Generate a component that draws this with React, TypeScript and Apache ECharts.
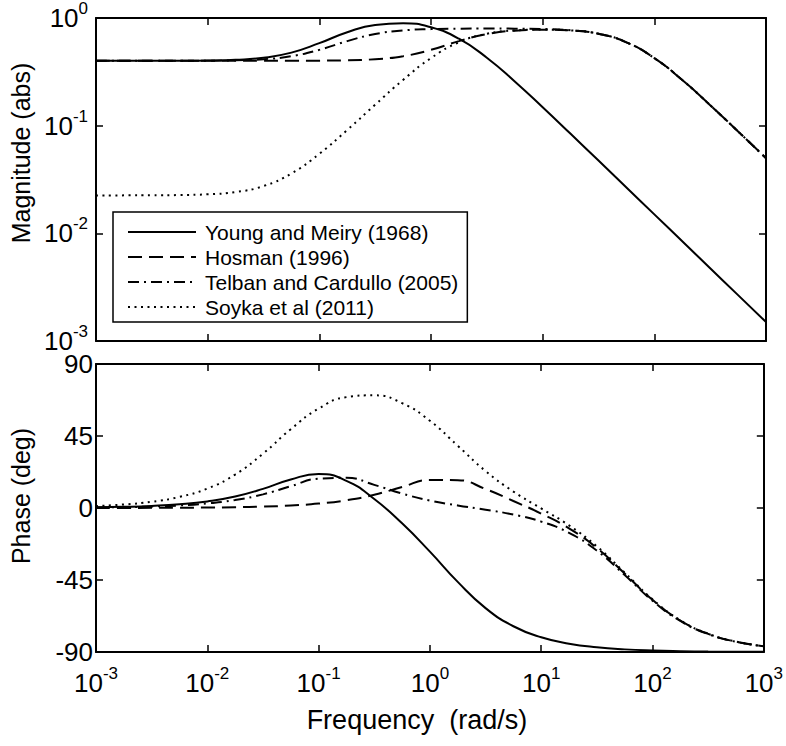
import React, { useEffect, useRef } from "react";
import * as echarts from "echarts";

// Frequencies (rad/s), quarter-decade grid
const FREQ = [
  0.001, 0.0017783, 0.0031623, 0.0056234, 0.01, 0.017783, 0.031623, 0.056234,
  0.1, 0.17783, 0.31623, 0.56234, 1, 1.7783, 3.1623, 5.6234, 10, 17.783,
  31.623, 56.234, 100, 177.83, 316.23, 562.34, 1000,
];

const NAMES = [
  "Young and Meiry (1968)",
  "Hosman (1996)",
  "Telban and Cardullo (2005)",
  "Soyka et al (2011)",
];

// Magnitude (abs)
const YOUNG_MAG = [
  0.4, 0.4001, 0.4003, 0.4009, 0.4029, 0.409, 0.4273, 0.4768, 0.5837, 0.738,
  0.8626, 0.8952, 0.8198, 0.6417, 0.4279, 0.2576, 0.1483, 0.08405, 0.04738,
  0.02667, 0.015, 0.008435, 0.004743, 0.002667, 0.0015,
];
const HOSMAN_MAG = [
  0.4, 0.4, 0.4, 0.4, 0.4, 0.4001, 0.4002, 0.4005, 0.4015, 0.4047, 0.4144,
  0.4418, 0.506, 0.6096, 0.7082, 0.7625, 0.7785, 0.7658, 0.7128, 0.5943,
  0.4239, 0.2653, 0.1551, 0.08835, 0.0499,
];
const TELBAN_MAG = [
  0.4, 0.4001, 0.4002, 0.4005, 0.4015, 0.4047, 0.4144, 0.4418, 0.506, 0.6099,
  0.7091, 0.7656, 0.7883, 0.796, 0.7978, 0.7965, 0.7899, 0.7694, 0.7138,
  0.5946, 0.424, 0.2653, 0.1551, 0.08835, 0.0499,
];
const SOYKA_MAG = [
  0.02251, 0.02252, 0.02256, 0.02268, 0.02305, 0.02419, 0.0275, 0.03599,
  0.05472, 0.09116, 0.1567, 0.2661, 0.4244, 0.5947, 0.713, 0.7664, 0.7801,
  0.7664, 0.7129, 0.5944, 0.4239, 0.2653, 0.1551, 0.08835, 0.0499,
];

// Phase (deg)
const YOUNG_PHASE = [
  0.41, 0.74, 1.31, 2.32, 4.1, 7.14, 11.93, 17.86, 21.2, 16.99, 5.59, -9.58,
  -27.28, -46.2, -62.57, -73.9, -80.82, -84.81, -87.07, -88.36, -89.08,
  -89.48, -89.71, -89.84, -89.91,
];
const HOSMAN_PHASE = [
  0.03, 0.05, 0.09, 0.16, 0.28, 0.49, 0.88, 1.56, 2.76, 4.84, 8.27, 13.13,
  17.52, 17.38, 11.86, 4.36, -3.49, -12.68, -25.02, -40.97, -57.41, -70.31,
  -78.64, -83.56, -86.37,
];
const TELBAN_PHASE = [
  0.29, 0.51, 0.9, 1.6, 2.84, 4.99, 8.53, 13.6, 18.34, 18.85, 14.47, 9.0,
  4.68, 1.57, -1.09, -4.12, -8.51, -15.56, -26.65, -41.89, -57.94, -70.6,
  -78.8, -83.65, -86.41,
];
const SOYKA_PHASE = [
  1.24, 2.2, 3.9, 6.92, 12.16, 20.91, 33.93, 49.27, 62.1, 69.3, 70.43, 65.54,
  54.49, 38.9, 23.11, 10.28, -0.26, -10.88, -24.01, -40.41, -57.1, -70.13,
  -78.54, -83.5, -86.33,
];

const FREQ_RANGE = [0.001, 1000];
const MAG_RANGE = [0.001, 1];
const PHASE_TICKS = [-90, -45, 0, 45, 90];

const FONT = "'Liberation Sans', Arial, Helvetica, sans-serif";

const DASHES: any[] = ["solid", [14, 7], [11, 5, 2, 5], [2, 4.5]];

const pairs = (vals: number[]) => FREQ.map((f, i) => [f, vals[i]]);

const supFormatter = (v: number) => {
  const e = Math.round(Math.log10(v));
  return `{b|10}{s|${e}}`;
};
const rich = {
  b: { fontSize: 26, lineHeight: 36, fontFamily: FONT, color: "#000" },
  s: {
    fontSize: 17,
    lineHeight: 17,
    verticalAlign: "top",
    fontFamily: FONT,
    color: "#000",
  },
};

const axisLine = { show: true, onZero: false, lineStyle: { color: "#000", width: 2 } };
const axisTick = { show: true, inside: true, length: 7, lineStyle: { color: "#000", width: 1.5 } };

export default function App() {
  const ref = useRef<HTMLDivElement>(null);

  useEffect(() => {
    if (!ref.current) return;
    const chart = echarts.init(ref.current, null, { renderer: "svg" });

    const magSets = [YOUNG_MAG, HOSMAN_MAG, TELBAN_MAG, SOYKA_MAG];
    const phaseSets = [YOUNG_PHASE, HOSMAN_PHASE, TELBAN_PHASE, SOYKA_PHASE];

    const mkSeries = (vals: number[], i: number, axisIdx: number) => ({
      name: NAMES[i],
      type: "line",
      xAxisIndex: axisIdx,
      yAxisIndex: axisIdx,
      data: pairs(vals),
      symbol: "none",
      showSymbol: false,
      smooth: true,
      lineStyle: { color: "#000", width: 2, type: DASHES[i], cap: "butt" },
      itemStyle: { color: "#000" },
      z: 10 - i,
    });

    const logX = (gridIndex: number, position: string, labels: boolean, extra: any = {}) => ({
      type: "log",
      logBase: 10,
      gridIndex,
      position,
      min: FREQ_RANGE[0],
      max: FREQ_RANGE[1],
      axisLine,
      axisTick,
      minorTick: { show: false },
      splitLine: { show: false },
      axisLabel: labels
        ? { show: true, formatter: supFormatter, rich, margin: 13 }
        : { show: false },
      ...extra,
    });

    const titleStyle = (text: string) => ({
      text,
      fontSize: 25,
      fontFamily: FONT,
      fill: "#000",
      align: "center",
      verticalAlign: "middle",
      textAlign: "center",
      textVerticalAlign: "middle",
    });

    chart.setOption({
      animation: false,
      backgroundColor: "#fff",
      textStyle: { fontFamily: FONT, color: "#000" },
      grid: [
        { left: 96, top: 15, right: 20, height: 326 },
        { left: 96, top: 364, right: 20, height: 288 },
      ],
      xAxis: [
        logX(0, "bottom", false),
        logX(0, "top", false),
        logX(1, "bottom", true, {
          name: "Frequency  (rad/s)",
          nameLocation: "middle",
          nameGap: 54,
          nameTextStyle: {
            fontSize: 27,
            fontFamily: FONT,
            color: "#000",
            verticalAlign: "top",
            padding: [0, 26, 0, 0],
          },
        }),
        logX(1, "top", false),
      ],
      yAxis: [
        {
          type: "log",
          logBase: 10,
          gridIndex: 0,
          position: "left",
          min: MAG_RANGE[0],
          max: MAG_RANGE[1],
          axisLine,
          axisTick,
          minorTick: { show: false },
          splitLine: { show: false },
          axisLabel: { show: true, formatter: supFormatter, rich, margin: 8 },
        },
        {
          type: "log",
          logBase: 10,
          gridIndex: 0,
          position: "right",
          min: MAG_RANGE[0],
          max: MAG_RANGE[1],
          axisLine,
          axisTick,
          minorTick: { show: false },
          splitLine: { show: false },
          axisLabel: { show: false },
        },
        {
          type: "value",
          gridIndex: 1,
          position: "left",
          min: PHASE_TICKS[0],
          max: PHASE_TICKS[PHASE_TICKS.length - 1],
          interval: 45,
          axisLine,
          axisTick,
          splitLine: { show: false },
          axisLabel: {
            show: true,
            margin: 3,
            fontSize: 26,
            fontFamily: FONT,
            color: "#000",
          },
        },
        {
          type: "value",
          gridIndex: 1,
          position: "right",
          min: PHASE_TICKS[0],
          max: PHASE_TICKS[PHASE_TICKS.length - 1],
          interval: 45,
          axisLine,
          axisTick,
          splitLine: { show: false },
          axisLabel: { show: false },
        },
      ],
      legend: {
        data: NAMES,
        orient: "vertical",
        left: 113,
        top: 212,
        itemWidth: 68,
        itemHeight: 12,
        itemGap: 3,
        padding: [9, 9, 4, 14],
        borderColor: "#000",
        borderWidth: 1.5,
        borderRadius: 0,
        backgroundColor: "#fff",
        selectedMode: false,
        itemStyle: { opacity: 0, borderWidth: 0 },
        textStyle: {
          fontSize: 21,
          lineHeight: 22,
          fontFamily: FONT,
          color: "#000",
          padding: [0, 0, 0, 4],
        },
      },
      graphic: [
        {
          type: "text",
          x: 21,
          y: 153,
          rotation: Math.PI / 2,
          style: titleStyle("Magnitude (abs)"),
        },
        {
          type: "text",
          x: 21,
          y: 496,
          rotation: Math.PI / 2,
          style: titleStyle("Phase (deg)"),
        },
      ],
      series: [
        ...magSets.map((v, i) => mkSeries(v, i, 0)),
        ...phaseSets.map((v, i) => mkSeries(v, i, 2)),
      ],
    });

    return () => chart.dispose();
  }, []);

  return (
    <div
      ref={ref}
      style={{
        position: "fixed",
        left: 0,
        top: 0,
        width: 786,
        height: 746,
        background: "#fff",
      }}
    />
  );
}
